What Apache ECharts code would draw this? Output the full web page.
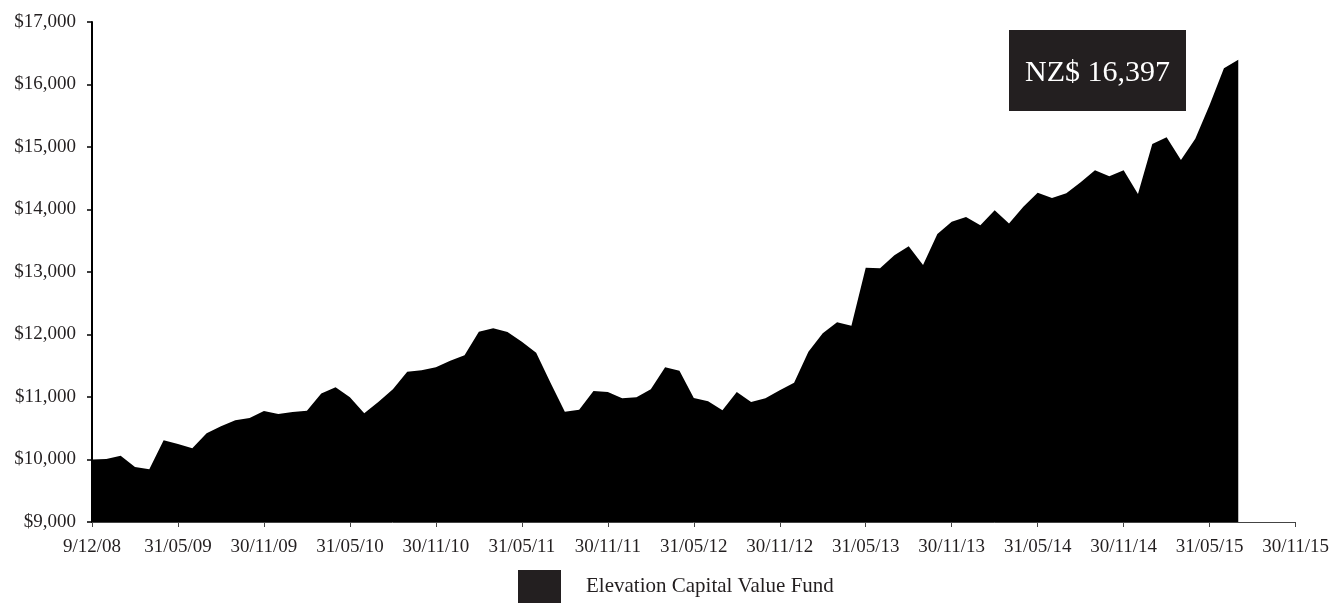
<!DOCTYPE html>
<html>
<head>
<meta charset="utf-8">
<script src="https://cdn.jsdelivr.net/npm/echarts@6/dist/echarts.min.js"></script>
<style>
html,body{margin:0;padding:0;background:#fff;}
#chart{width:1332px;height:603px;}
</style>
</head>
<body>
<div id="chart"></div>
<script>
var categories = [
  '9/12/08','31/12/08',
  '31/01/09','28/02/09','31/03/09','30/04/09','31/05/09','30/06/09','31/07/09','31/08/09','30/09/09','31/10/09','30/11/09','31/12/09',
  '31/01/10','28/02/10','31/03/10','30/04/10','31/05/10','30/06/10','31/07/10','31/08/10','30/09/10','31/10/10','30/11/10','31/12/10',
  '31/01/11','28/02/11','31/03/11','30/04/11','31/05/11','30/06/11','31/07/11','31/08/11','30/09/11','31/10/11','30/11/11','31/12/11',
  '31/01/12','29/02/12','31/03/12','30/04/12','31/05/12','30/06/12','31/07/12','31/08/12','30/09/12','31/10/12','30/11/12','31/12/12',
  '31/01/13','28/02/13','31/03/13','30/04/13','31/05/13','30/06/13','31/07/13','31/08/13','30/09/13','31/10/13','30/11/13','31/12/13',
  '31/01/14','28/02/14','31/03/14','30/04/14','31/05/14','30/06/14','31/07/14','31/08/14','30/09/14','31/10/14','30/11/14','31/12/14',
  '31/01/15','28/02/15','31/03/15','30/04/15','31/05/15','30/06/15','31/07/15','31/08/15','30/09/15','31/10/15','30/11/15'
];

var fundValues = [
  10000,10010,10060,9880,9843,10307,10248,10179,10419,10531,
  10627,10664,10776,10728,10760,10781,11055,11155,10995,10739,
  10925,11123,11405,11427,11475,11581,11667,12045,12099,12040,
  11885,11709,11230,10765,10797,11096,11080,10979,10995,11123,
  11475,11421,10984,10931,10787,11080,10920,10979,11107,11230,
  11725,12019,12195,12141,13069,13059,13267,13411,13112,13608,
  13805,13880,13747,13987,13775,14045,14269,14184,14259,14435,
  14627,14531,14627,14248,15048,15155,14792,15133,15672,16259,
  16397
];

var seriesName = 'Elevation Capital Value Fund';
var finalLabelPrefix = 'NZ$ ';

function fmt(v){ return v.toString().replace(/\B(?=(\d{3})+(?!\d))/g, ','); }

var chart = echarts.init(document.getElementById('chart'));
var fontFam = '"Liberation Serif", "DejaVu Serif", serif';
var textCol = '#231f20';

chart.setOption({
  animation: false,
  textStyle: { fontFamily: fontFam },
  grid: { left: 92, right: 35, top: 22, bottom: 81, containLabel: false },
  legend: {
    left: 518, top: 570, padding: 0,
    itemWidth: 43, itemHeight: 33, itemGap: 10,
    textStyle: { fontFamily: fontFam, fontSize: 21, color: textCol, padding: [10,0,0,20] },
    data: [{ name: seriesName, icon: 'rect', itemStyle: { color: '#231f20' } }]
  },
  xAxis: {
    type: 'category',
    data: categories,
    boundaryGap: false,
    axisLine: { show: true, lineStyle: { color: '#444', width: 1 } },
    axisTick: { show: true, interval: 5, length: 5, lineStyle: { color: '#444', width: 1 } },
    axisLabel: { interval: 5, margin: 16, fontFamily: fontFam, fontSize: 19, color: textCol },
    splitLine: { show: false }
  },
  yAxis: {
    type: 'value',
    min: 9000, max: 17000, interval: 1000,
    axisLine: { show: true, lineStyle: { color: '#000', width: 2 } },
    axisTick: { show: true, length: 5, lineStyle: { color: '#000', width: 1.5 } },
    axisLabel: { margin: 16, fontFamily: fontFam, fontSize: 19, color: textCol,
      formatter: function(v){ return '$' + fmt(v); } },
    splitLine: { show: false }
  },
  series: [{
    name: seriesName,
    type: 'line',
    data: fundValues,
    symbol: 'none',
    lineStyle: { width: 0, color: '#000' },
    itemStyle: { color: '#000' },
    areaStyle: { color: '#000', opacity: 1, origin: 'start' },
    z: 1
  }],
  graphic: [{
    type: 'group',
    left: 1009, top: 30,
    children: [
      { type: 'rect', shape: { x: 0, y: 0, width: 177, height: 81 }, style: { fill: '#231f20' } },
      { type: 'text', x: 88.5, y: 43,
        style: { text: finalLabelPrefix + fmt(fundValues[fundValues.length-1]), fill: '#fff',
                 font: '30px ' + fontFam, textAlign: 'center', textVerticalAlign: 'middle' } }
    ]
  }]
});
</script>
</body>
</html>
